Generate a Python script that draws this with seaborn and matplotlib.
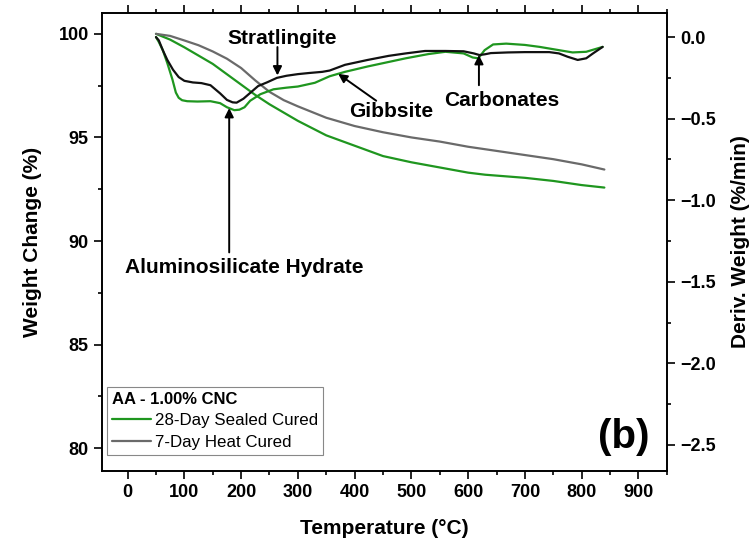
import matplotlib
matplotlib.use("Agg")
import matplotlib.pyplot as plt
from matplotlib.ticker import MultipleLocator
import seaborn as sns

# TGA weight curves (left axis)
temp_w_sealed = [50, 75, 100, 125, 150, 175, 200, 225, 250, 275, 300, 350, 400, 450, 500, 550, 600,
                 630, 700, 750, 800, 840]
weight_sealed = [100.0, 99.72, 99.35, 98.95, 98.55, 98.05, 97.55, 97.05, 96.6, 96.2, 95.8, 95.1, 94.6,
                 94.1, 93.8, 93.55, 93.3, 93.2, 93.05, 92.9, 92.7, 92.58]

temp_w_heat = [50, 75, 100, 125, 150, 175, 200, 225, 250, 275, 300, 350, 400, 450, 500, 550, 600, 650,
               700, 750, 800, 840]
weight_heat = [100.0, 99.9, 99.68, 99.45, 99.15, 98.8, 98.35, 97.75, 97.2, 96.8, 96.5, 95.95, 95.55,
               95.25, 95.0, 94.8, 94.55, 94.35, 94.15, 93.95, 93.7, 93.45]

# DTG curves (right axis)
temp_d_sealed = [50, 55, 62, 70, 79, 85, 90, 96, 105, 123, 146, 163, 175, 188, 197, 206, 216, 234,
                 257, 280, 300, 330, 356, 383, 423, 490, 530, 560, 592, 608, 618, 629, 644, 667,
                 700, 726, 760, 784, 808, 837]
dtg_sealed = [0.0, -0.03, -0.08, -0.16, -0.26, -0.34, -0.372, -0.387, -0.393, -0.395, -0.393, -0.405,
              -0.43, -0.448, -0.445, -0.43, -0.39, -0.35, -0.32, -0.31, -0.303, -0.28, -0.24,
              -0.213, -0.18, -0.13, -0.104, -0.09, -0.10, -0.125, -0.13, -0.08, -0.045, -0.04,
              -0.048, -0.06, -0.08, -0.094, -0.09, -0.06]

temp_d_heat = [50, 55, 62, 70, 80, 90, 100, 115, 130, 146, 163, 175, 185, 192, 204, 215, 230, 246,
               263, 280, 300, 320, 343, 356, 383, 423, 460, 490, 524, 560, 592, 610, 620, 630, 640,
               670, 700, 743, 760, 775, 793, 808, 820, 837]
dtg_heat = [0.0, -0.02, -0.08, -0.14, -0.20, -0.245, -0.268, -0.278, -0.282, -0.295, -0.345, -0.385,
            -0.40, -0.402, -0.378, -0.345, -0.30, -0.277, -0.25, -0.237, -0.227, -0.22, -0.213,
            -0.205, -0.17, -0.14, -0.115, -0.10, -0.085, -0.085, -0.087, -0.10, -0.11, -0.105,
            -0.098, -0.094, -0.092, -0.092, -0.10, -0.12, -0.14, -0.13, -0.10, -0.06]

series_labels = ["28-Day Sealed Cured", "7-Day Heat Cured"]
legend_title = "AA - 1.00% CNC"

GREEN = "#1f961f"
GRAY = "#6a6a6a"
BLACK = "#111111"

sns.set_style("ticks")
plt.rcParams["font.family"] = ["Liberation Sans", "DejaVu Sans"]
plt.rcParams.update({
    "axes.linewidth": 1.2,
    "axes.edgecolor": "black",
    "text.color": "black",
    "axes.labelcolor": "black",
    "xtick.color": "black",
    "ytick.color": "black",
})

fig = plt.figure(figsize=(7.56, 5.47), dpi=100)
ax = fig.add_axes([0.135, 0.139, 0.747, 0.837])
ax2 = ax.twinx()

sns.lineplot(x=temp_w_sealed, y=weight_sealed, ax=ax, color=GREEN, lw=1.6, label=series_labels[0])
sns.lineplot(x=temp_w_heat, y=weight_heat, ax=ax, color=GRAY, lw=1.6, label=series_labels[1])
sns.lineplot(x=temp_d_sealed, y=dtg_sealed, ax=ax2, color=GREEN, lw=1.6, legend=False)
sns.lineplot(x=temp_d_heat, y=dtg_heat, ax=ax2, color=BLACK, lw=1.6, legend=False)

ax.set_xlim(-45, 950)
ax.set_ylim(78.9, 101.0)
ax2.set_ylim(-2.66, 0.147)

ax.xaxis.set_major_locator(MultipleLocator(100))
ax.xaxis.set_minor_locator(MultipleLocator(50))
ax.yaxis.set_major_locator(MultipleLocator(5))
ax.yaxis.set_minor_locator(MultipleLocator(2.5))
ax2.yaxis.set_major_locator(MultipleLocator(0.5))
ax2.yaxis.set_minor_locator(MultipleLocator(0.25))
ax2.yaxis.set_major_formatter(plt.FuncFormatter(lambda v, p: f"{v:.1f}".replace("-", "\u2212")))

for a in (ax, ax2):
    a.tick_params(which="major", direction="out", length=6, width=1.2, labelsize=13)
    a.tick_params(which="minor", direction="out", length=3, width=1.2)
ax.tick_params(which="both", top=True, right=False)
ax2.tick_params(which="both", right=True, left=False, top=False)
for a in (ax, ax2):
    for lbl in a.get_xticklabels() + a.get_yticklabels():
        lbl.set_fontweight("bold")

ax.set_xlabel("Temperature (\u00b0C)", fontsize=15, fontweight="bold", labelpad=13)
ax.set_ylabel("Weight Change (%)", fontsize=15, fontweight="bold", labelpad=12)
ax2.set_ylabel("Deriv. Weight (%/min)", fontsize=15, fontweight="bold", labelpad=11)

leg = ax.legend(title=legend_title, loc="lower left", bbox_to_anchor=(0.009, 0.035),
                borderaxespad=0, fontsize=12.2, title_fontproperties={"weight": "bold", "size": 12},
                alignment="left", fancybox=False, framealpha=1, edgecolor="#888888",
                handlelength=2.3, handletextpad=0.2, borderpad=0.3, labelspacing=0.38)
leg.get_frame().set_linewidth(0.8)

arrow_kw = dict(arrowstyle="-|>", color="black", lw=1.4, mutation_scale=13, shrinkA=0, shrinkB=0)
text_kw = dict(fontsize=15, fontweight="bold", ha="center", va="center")

ax2.text(272, -0.006, "Stratlingite", **text_kw)
ax2.annotate("", xy=(264, -0.235), xytext=(264, -0.061), arrowprops=arrow_kw)

ax2.text(464, -0.454, "Gibbsite", **text_kw)
ax2.annotate("", xy=(371, -0.225), xytext=(438, -0.39), arrowprops=arrow_kw)

ax2.text(659, -0.386, "Carbonates", **text_kw)
ax2.annotate("", xy=(619, -0.11), xytext=(619, -0.295), arrowprops=arrow_kw)

ax2.text(206, -1.41, "Aluminosilicate Hydrate", **text_kw)
ax2.annotate("", xy=(179, -0.435), xytext=(179, -1.32), arrowprops=arrow_kw)

ax2.text(875, -2.454, "(b)", fontsize=29, fontweight="bold", ha="center", va="center")

fig.savefig("out.png", dpi=100)
